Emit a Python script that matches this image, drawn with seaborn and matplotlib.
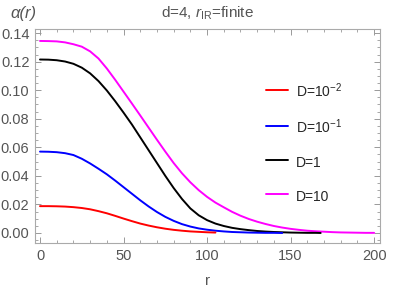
#!/usr/bin/env python3
"""Profiles a(r) for several D values, d=4 with finite r_IR
"""

import numpy as np
import pandas as pd
import matplotlib
matplotlib.use("Agg")
import matplotlib.pyplot as plt
from matplotlib.ticker import MultipleLocator, FormatStrFormatter
import seaborn as sns

# values, r in steps of 5
r_red = [0, 5, 10, 15, 20, 25, 30, 35, 40, 45, 50, 55, 60, 65, 70, 75, 80,
         85, 90, 95, 100, 105]
a_red = [0.0188, 0.0188, 0.0187, 0.0185, 0.0181, 0.0175, 0.0166, 0.0153,
         0.0138, 0.0120, 0.0101, 0.0083, 0.0066, 0.0052, 0.0040, 0.0030,
         0.0022, 0.0016, 0.0011, 0.0008, 0.0005, 0.0003]

r_blue = [0, 5, 10, 15, 20, 25, 30, 35, 40, 45, 50, 55, 60, 65, 70, 75, 80,
          85, 90, 95, 100, 105, 110, 115, 120, 125, 130, 135, 140, 145]
a_blue = [0.0570, 0.0569, 0.0566, 0.0559, 0.0546, 0.0520, 0.0487, 0.0450,
          0.0411, 0.0367, 0.0321, 0.0275, 0.0229, 0.0186, 0.0147, 0.0113,
          0.0085, 0.0062, 0.0045, 0.0032, 0.0023, 0.0016, 0.0011, 0.0007,
          0.0005, 0.0003, 0.0002, 0.0001, 0.0001, 0.0]

r_black = [0, 5, 10, 15, 20, 25, 30, 35, 40, 45, 50, 55, 60, 65, 70, 75, 80,
           85, 90, 95, 100, 105, 110, 115, 120, 125, 130, 135, 140, 145, 150,
           155, 160, 165, 168]
a_black = [0.1215, 0.1214, 0.1210, 0.1201, 0.1185, 0.1158, 0.1118, 0.1064,
           0.0998, 0.0923, 0.0843, 0.0760, 0.0670, 0.0580, 0.0490, 0.0400,
           0.0315, 0.0238, 0.0172, 0.0124, 0.0090, 0.0066, 0.0049, 0.0036,
           0.0027, 0.0020, 0.0014, 0.0010, 0.0007, 0.0005, 0.0003, 0.0002,
           0.0001, 0.0001, 0.0]

r_mag = [0, 5, 10, 15, 20, 25, 30, 35, 40, 45, 50, 55, 60, 65, 70, 75, 80,
         85, 90, 95, 100, 105, 110, 115, 120, 125, 130, 135, 140, 145, 150,
         155, 160, 165, 170, 175, 180, 185, 190, 195, 200]
a_mag = [0.1345, 0.1344, 0.1342, 0.1335, 0.1322, 0.1305, 0.1272, 0.1222,
         0.1152, 0.1073, 0.0990, 0.0907, 0.0823, 0.0738, 0.0653, 0.0570,
         0.0490, 0.0418, 0.0355, 0.0300, 0.0253, 0.0213, 0.0180, 0.0148,
         0.0121, 0.0098, 0.0079, 0.0063, 0.0049, 0.0038, 0.0029, 0.0022,
         0.0016, 0.0012, 0.0009, 0.0006, 0.0004, 0.0003, 0.0002, 0.0001,
         0.0001]

labels = [r"D=$10^{-2}$", r"D=$10^{-1}$", "D=1", "D=10"]
colors = ["#ff0000", "#0000ff", "#000000", "#ff00ff"]


def main():
    sns.set_style("ticks")
    plt.rcParams["font.family"] = ["Liberation Sans", "DejaVu Sans"]
    plt.rcParams["mathtext.fontset"] = "custom"
    plt.rcParams["mathtext.rm"] = "Liberation Sans"
    plt.rcParams["mathtext.it"] = "Liberation Sans:italic"

    series = [(r_red, a_red), (r_blue, a_blue), (r_black, a_black), (r_mag, a_mag)]

    fig = plt.figure(figsize=(4.07, 2.91), dpi=100)
    ax = fig.add_axes([0.086, 0.165, 0.848, 0.735])

    # draw last series first so the lower curves sit on top near zero
    handles = [None] * 4
    for i in reversed(range(4)):
        df = pd.DataFrame({"r": series[i][0], "a": series[i][1]})
        sns.lineplot(data=df, x="r", y="a", color=colors[i], lw=1.4, ax=ax,
                     label=labels[i])
        handles[i] = ax.lines[-1]

    gray = "#555555"
    ax.set_xlim(-3, 203.6)
    ax.set_ylim(-0.007, 0.1428)
    ax.xaxis.set_major_locator(MultipleLocator(50))
    ax.xaxis.set_minor_locator(MultipleLocator(10))
    ax.yaxis.set_major_locator(MultipleLocator(0.02))
    ax.yaxis.set_minor_locator(MultipleLocator(0.005))
    ax.yaxis.set_major_formatter(FormatStrFormatter("%.2f"))
    ax.tick_params(which="both", direction="in", top=True, right=True,
                   color="#999999", labelcolor=gray, labelsize=10.5, pad=4)
    ax.tick_params(which="major", length=4, width=0.7)
    ax.tick_params(which="minor", length=2, width=0.6)
    for sp in ax.spines.values():
        sp.set_color("#aaaaaa")
        sp.set_linewidth(0.8)

    ax.set_xlabel("r", color=gray, fontsize=11, labelpad=8)
    ax.set_ylabel("")
    fig.text(0.025, 0.955, "α(r)", color=gray, fontsize=12, style="italic",
             ha="left", va="center")
    fig.text(0.51, 0.955, r"d=4, $r_{\rm IR}$=finite", color=gray,
             fontsize=11, ha="center", va="center")

    # tall handles keep every legend row the same height
    ax.legend(handles=handles, labels=labels, frameon=False, fontsize=10,
              loc="upper left", bbox_to_anchor=(0.632, 0.815),
              labelspacing=1.12, handleheight=1.7, handlelength=1.6,
              handletextpad=0.6)

    fig.savefig("out.png", dpi=100)


if __name__ == '__main__':
    main()
